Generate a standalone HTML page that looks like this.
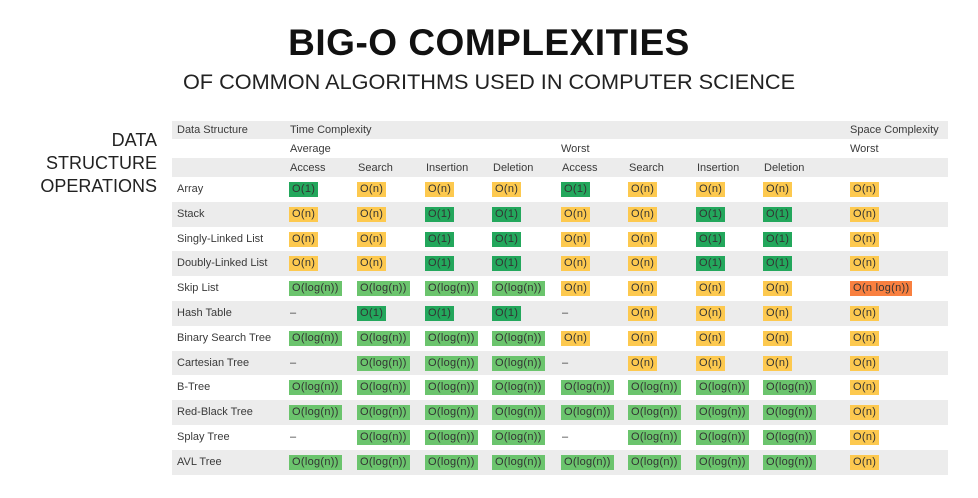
<!DOCTYPE html>
<html><head><meta charset="utf-8"><style>
body{margin:0;width:978px;height:498px;background:#fff;font-family:"Liberation Sans",sans-serif;color:#333;position:relative;overflow:hidden}
.abs{position:absolute}
#title{left:0;width:978px;top:22px;text-align:center;font-size:37px;font-weight:bold;color:#111;letter-spacing:0.5px}
#sub{left:0;width:978px;top:69px;text-align:center;font-size:21.7px;color:#222}
#side{left:37px;width:120px;top:129px;text-align:right;font-size:18px;line-height:23px;color:#222}
.row{position:absolute;left:172px;width:776px}
.g{background:#ececec}
.t{position:absolute;font-size:11px;white-space:nowrap;color:#3a3a3a}
.b{position:absolute;font-size:11px;height:15px;line-height:15px;padding:0 3px;white-space:nowrap;letter-spacing:0.3px;color:#333}
</style></head><body>
<div id="title" class="abs">BIG-O COMPLEXITIES</div>
<div id="sub" class="abs">OF COMMON ALGORITHMS USED IN COMPUTER SCIENCE</div>
<div id="side" class="abs">DATA<br>STRUCTURE<br>OPERATIONS</div>
<div id="tbl"></div>
<script>
const structures=["Array","Stack","Singly-Linked List","Doubly-Linked List","Skip List","Hash Table","Binary Search Tree","Cartesian Tree","B-Tree","Red-Black Tree","Splay Tree","AVL Tree"];
const opCols=["Access","Search","Insertion","Deletion","Access","Search","Insertion","Deletion",""];
const L="O(log(n))";
const values=[
["O(1)","O(n)","O(n)","O(n)","O(1)","O(n)","O(n)","O(n)","O(n)"],
["O(n)","O(n)","O(1)","O(1)","O(n)","O(n)","O(1)","O(1)","O(n)"],
["O(n)","O(n)","O(1)","O(1)","O(n)","O(n)","O(1)","O(1)","O(n)"],
["O(n)","O(n)","O(1)","O(1)","O(n)","O(n)","O(1)","O(1)","O(n)"],
[L,L,L,L,"O(n)","O(n)","O(n)","O(n)","O(n log(n))"],
["-","O(1)","O(1)","O(1)","-","O(n)","O(n)","O(n)","O(n)"],
[L,L,L,L,"O(n)","O(n)","O(n)","O(n)","O(n)"],
["-",L,L,L,"-","O(n)","O(n)","O(n)","O(n)"],
[L,L,L,L,L,L,L,L,"O(n)"],
[L,L,L,L,L,L,L,L,"O(n)"],
["-",L,L,L,"-",L,L,L,"O(n)"],
[L,L,L,L,L,L,L,L,"O(n)"]];
const colors={"O(1)":"#23a75c","O(log(n))":"#6bc46d","O(n)":"#fdc94f","O(n log(n))":"#f98040"};
const colX=[289,357,425,492,561,628,696,763,850];
const tbl=document.getElementById('tbl');
function mk(cls,l,t,w,h,txt){const d=document.createElement('div');d.className=cls;d.style.left=l+'px';d.style.top=t+'px';if(w)d.style.width=w+'px';if(h)d.style.height=h+'px';if(txt!==undefined)d.textContent=txt;tbl.appendChild(d);return d;}
const hr=[[121,18,true],[139,19,false],[158,19,true]];
hr.forEach((r,i)=>{const d=mk('row'+(r[2]?' g':''),172,r[0],null,r[1]);

});
function txt(x,y,s,name){const d=mk('t',x,y,null,null,s);

}
txt(177,124,"Data Structure","header-data-structure");
txt(290,124,"Time Complexity","header-time-complexity");
txt(850,124,"Space Complexity","header-space-complexity");
txt(290,143,"Average","header-average");
txt(561,143,"Worst","header-worst");
txt(850,143,"Worst","header-space-worst");
opCols.forEach((c,i)=>{if(c)txt(colX[i]+1,162,c,'header-'+c.toLowerCase());});
const top0=177,pitch=24.8;
structures.forEach((s,r)=>{
 const y=top0+r*pitch;
 const row=mk('row'+(r%2?' g':''),172,y,null,pitch);
 
 
 txt(177,y+6,s,'label-'+s.toLowerCase().replace(/ /g,'-'));
 values[r].forEach((v,c)=>{
  if(v==="-"){txt(colX[c]+1,y+6,"–",'cell-empty');return;}
  const b=mk('b',colX[c],y+5,null,null,v);b.style.background=colors[v];
  
  
 });
});
</script>
</body></html>
